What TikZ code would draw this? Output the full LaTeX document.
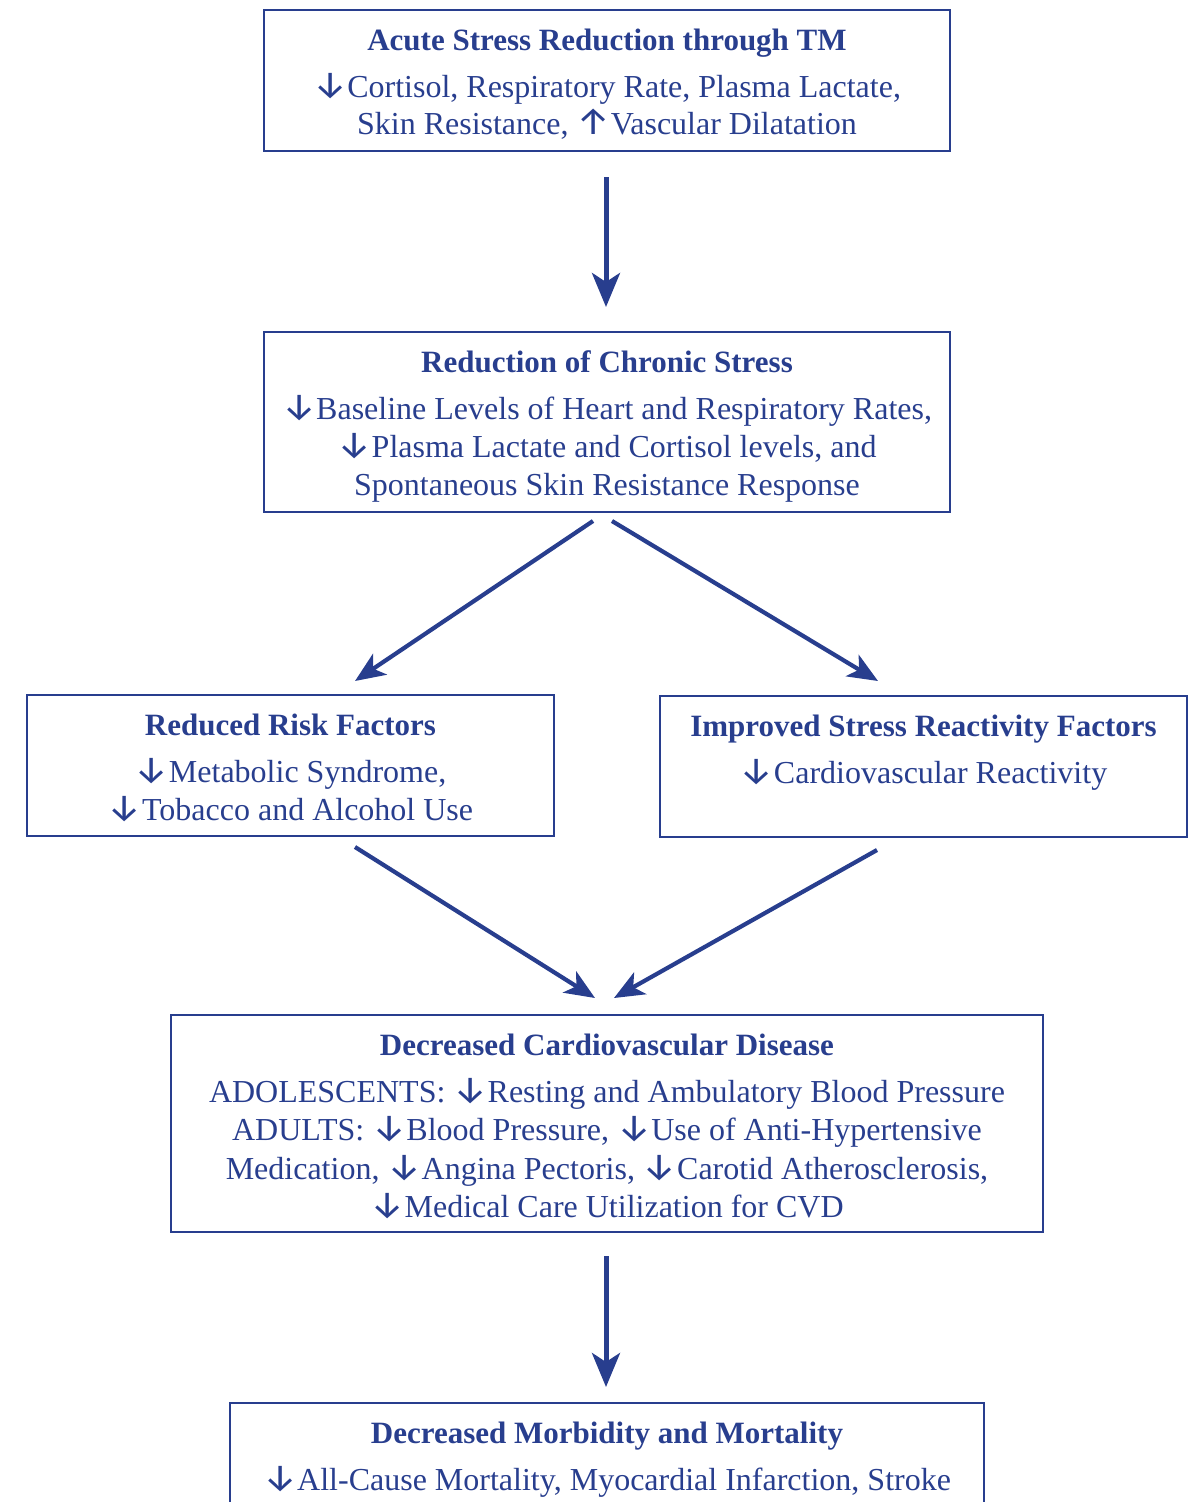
\documentclass[tikz,border=0pt]{standalone}
\usepackage{fontspec}
\setmainfont{Liberation Serif}
\newfontfamily\arrowfont{Fira Sans}
\usetikzlibrary{arrows.meta,calc}
\definecolor{navy}{RGB}{40,62,142}
\tikzset{
  frame/.style={draw=navy,line width=2.2pt,inner sep=0pt,outer sep=0pt,fill=none},
  ttl/.style={text=navy,anchor=base,inner sep=0pt,font=\fontsize{31}{38}\selectfont\bfseries},
  txt/.style={text=navy,anchor=base,inner sep=0pt,font=\fontsize{32}{38}\selectfont},
  vflow/.style={draw=navy,line width=5pt,-{Stealth[length=34pt,width=28pt,inset=9pt]}},
  dflow/.style={draw=navy,line width=4.2pt,-{Stealth[length=30pt,width=25pt,inset=8pt]}}
}
\newcommand{\dn}{{\fontsize{38}{38}\arrowfont ↓}}
\newcommand{\upa}{{\fontsize{38}{38}\arrowfont ↑}}
\begin{document}
\begin{tikzpicture}[x=1pt,y=-1pt]
\useasboundingbox (0,0) rectangle (1201,1502);
\clip (0,0) rectangle (1201,1502);
% boxes
\node[frame,minimum width=686pt,minimum height=141pt] (b1) at (607,80.5) {};
\node[frame,minimum width=686pt,minimum height=180pt] (b2) at (607,422) {};
\node[frame,minimum width=527pt,minimum height=141pt] (b3l) at (290.5,765.5) {};
\node[frame,minimum width=527pt,minimum height=141pt] (b3r) at (923.5,766.5) {};
\node[frame,minimum width=872pt,minimum height=217pt] (b4) at (607,1123.5) {};
\node[frame,minimum width=754pt,minimum height=140pt,anchor=north] (b5) at (607,1403) {};
% texts
\node[ttl] (t1a) at (607,50) {Acute Stress Reduction through TM};
\node[txt] (t1b) at (607,97) {\dn Cortisol, Respiratory Rate, Plasma Lactate,};
\node[txt] (t1c) at (607,134) {Skin Resistance, \upa Vascular Dilatation};
\node[ttl] (t2a) at (607,372) {Reduction of Chronic Stress};
\node[txt] (t2b) at (607,419) {\dn Baseline Levels of Heart and Respiratory Rates,};
\node[txt] (t2c) at (607,457) {\dn Plasma Lactate and Cortisol levels, and};
\node[txt] (t2d) at (607,495) {Spontaneous Skin Resistance Response};
\node[ttl] (t3a) at (290.5,735) {Reduced Risk Factors};
\node[txt] (t3b) at (290.5,782) {\dn Metabolic Syndrome,};
\node[txt] (t3c) at (290.5,820) {\dn Tobacco and Alcohol Use};
\node[ttl] (t4a) at (923.5,736) {Improved Stress Reactivity Factors};
\node[txt] (t4b) at (923.5,783) {\dn Cardiovascular Reactivity};
\node[ttl] (t5a) at (607,1055) {Decreased Cardiovascular Disease};
\node[txt] (t5b) at (607,1102) {ADOLESCENTS: \dn Resting and Ambulatory Blood Pressure};
\node[txt] (t5c) at (607,1140) {ADULTS: \dn Blood Pressure, \dn Use of Anti-Hypertensive};
\node[txt] (t5d) at (607,1179) {Medication, \dn Angina Pectoris, \dn Carotid Atherosclerosis,};
\node[txt] (t5e) at (607,1217) {\dn Medical Care Utilization for CVD};
\node[ttl] (t6a) at (607,1443) {Decreased Morbidity and Mortality};
\node[txt] (t6b) at (607,1490) {\dn All-Cause Mortality, Myocardial Infarction, Stroke};
% connectors
\draw[vflow] ($(b1.south)+(-1,26)$) -- ($(b2.north)+(-1,-25)$);
\draw[dflow] ($(b2.south)+(-14,9)$) -- ($(b3l.north)+(64.5,-14)$);
\draw[dflow] ($(b2.south)+(5,9)$) -- ($(b3r.north)+(-45.5,-15)$);
\draw[dflow] ($(b3l.south)+(64.5,11)$) -- ($(b4.north)+(-12,-17)$);
\draw[dflow] ($(b3r.south)+(-46.5,13)$) -- ($(b4.north)+(7,-17)$);
\draw[vflow] ($(b4.south)+(-1,24)$) -- ($(b5.north)+(-1,-16)$);
\end{tikzpicture}
\end{document}
